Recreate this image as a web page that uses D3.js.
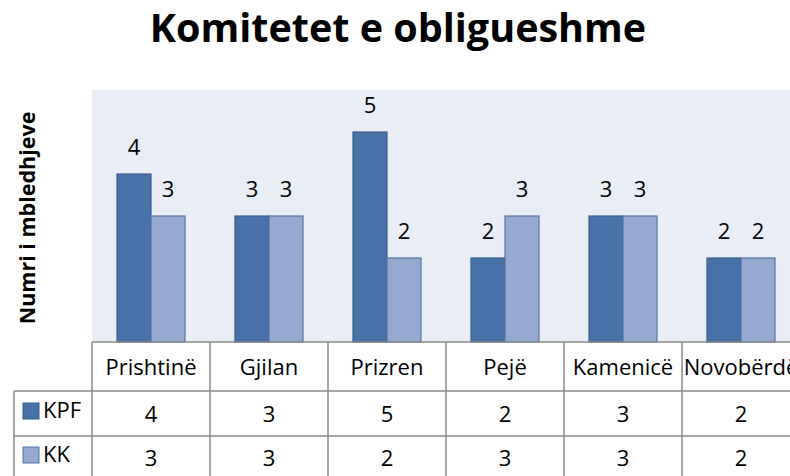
<!DOCTYPE html>
<html>
<head>
<meta charset="utf-8">
<script src="https://cdn.jsdelivr.net/npm/d3@7"></script>
<style>
  body { margin: 0; background: #fff; }
  svg { display: block; font-family: 'Open Sans', sans-serif; }
  .grid line { stroke: #8a8a8a; stroke-width: 1.5; }
</style>
</head>
<body>
<div id="chart"></div>
<script>
// data
const categories = ['Prishtinë', 'Gjilan', 'Prizren', 'Pejë', 'Kamenicë', 'Novobërdë'];
const seriesNames = ['KPF', 'KK'];
const kpf = [4, 3, 5, 2, 3, 2];
const kk = [3, 3, 2, 3, 3, 2];
const yMax = 6;

const title = 'Komitetet e obligueshme';
const yTitle = 'Numri i mbledhjeve';

const colors = { KPF: '#4672a8', KK: '#96aad1' };
const strokes = { KPF: '#3a5e8c', KK: '#5776a6' };

// dimension stuff
const width = 790;
const height = 476;
const plot = { left: 92, top: 90, bottom: 342 };
const colW = 118;
const rowTops = [342, 391, 436, 481];
const legendLeft = 14;
const fs = 22;

const series = seriesNames.map((name, i) => ({ name, values: i === 0 ? kpf : kk }));

// scales
const scaleX = d3.scaleBand()
  .domain(categories)
  .range([plot.left, plot.left + colW * categories.length])
  .paddingInner(0)
  .paddingOuter(0);

const scaleSeries = d3.scaleBand()
  .domain(seriesNames)
  .range([0, scaleX.bandwidth()])
  .paddingInner(0)
  .paddingOuter(0.735);

const scaleY = d3.scaleLinear().domain([0, yMax]).range([plot.bottom, plot.top]);

// dom elements
const $svg = d3.select('#chart').append('svg')
  .attr('width', width)
  .attr('height', height);

// title
$svg.append('text')
  .attr('x', 398)
  .attr('y', 42)
  .attr('text-anchor', 'middle')
  .style('font-size', '39.5px')
  .style('font-weight', 700)
  .text(title);

// y axis title
$svg.append('text')
  .attr('transform', 'translate(35, 218) rotate(-90)')
  .attr('text-anchor', 'middle')
  .style('font-size', '21.5px')
  .style('font-weight', 700)
  .text(yTitle);

// plot background
$svg.append('rect')
  .attr('x', plot.left)
  .attr('y', plot.top)
  .attr('width', width - plot.left)
  .attr('height', plot.bottom - plot.top)
  .attr('fill', '#e9edf5');

// bars
const $groups = $svg.append('g').attr('class', 'g-bars')
  .selectAll('g')
  .data(series)
  .join('g');

$groups.selectAll('rect')
  .data(s => s.values.map((v, i) => ({ name: s.name, cat: categories[i], v })))
  .join('rect')
  .attr('x', d => scaleX(d.cat) + scaleSeries(d.name))
  .attr('y', d => scaleY(d.v))
  .attr('width', scaleSeries.bandwidth())
  .attr('height', d => scaleY(0) - scaleY(d.v))
  .attr('fill', d => colors[d.name])
  .attr('stroke', d => strokes[d.name])
  .attr('stroke-width', 1.2);

// data labels
$groups.selectAll('text')
  .data(s => s.values.map((v, i) => ({ name: s.name, cat: categories[i], v })))
  .join('text')
  .attr('x', d => scaleX(d.cat) + scaleSeries(d.name) + scaleSeries.bandwidth() / 2)
  .attr('y', d => scaleY(d.v) - 19)
  .attr('text-anchor', 'middle')
  .style('font-size', `${fs}px`)
  .text(d => d.v);

// data table
const $table = $svg.append('g').attr('class', 'grid');
const tableRight = width;

// horizontal lines
$table.append('line')
  .attr('x1', plot.left).attr('x2', tableRight)
  .attr('y1', rowTops[0]).attr('y2', rowTops[0]);
$table.selectAll('.h')
  .data(rowTops.slice(1))
  .join('line')
  .attr('class', 'h')
  .attr('x1', legendLeft).attr('x2', tableRight)
  .attr('y1', d => d).attr('y2', d => d);

// vertical lines
const colEdges = categories.map(c => scaleX(c)).concat([scaleX.range()[1]]);
$table.selectAll('.v')
  .data(colEdges)
  .join('line')
  .attr('class', 'v')
  .attr('x1', d => d).attr('x2', d => d)
  .attr('y1', rowTops[0]).attr('y2', height);
$table.append('line')
  .attr('x1', legendLeft).attr('x2', legendLeft)
  .attr('y1', rowTops[1]).attr('y2', height);

// header (last name runs past the window edge, as in the source)
$svg.append('g').selectAll('text')
  .data(categories)
  .join('text')
  .attr('x', d => scaleX(d) + colW / 2)
  .attr('y', 375)
  .attr('text-anchor', 'middle')
  .style('font-size', `${fs}px`)
  .text(d => d);

// table rows
const rowBase = [422, 466];
series.forEach((s, i) => {
  const $row = $svg.append('g');
  $row.append('rect')
    .attr('x', 23)
    .attr('y', rowBase[i] - 19)
    .attr('width', 16)
    .attr('height', 16)
    .attr('fill', colors[s.name])
    .attr('stroke', strokes[s.name]);
  $row.append('text')
    .attr('x', 43)
    .attr('y', rowBase[i] - 4)
    .style('font-size', `${fs}px`)
    .text(s.name);
  $row.selectAll('.val')
    .data(s.values)
    .join('text')
    .attr('class', 'val')
    .attr('x', (d, j) => scaleX(categories[j]) + colW / 2)
    .attr('y', rowBase[i])
    .attr('text-anchor', 'middle')
    .style('font-size', `${fs}px`)
    .text(d => d);
});
</script>
</body>
</html>
